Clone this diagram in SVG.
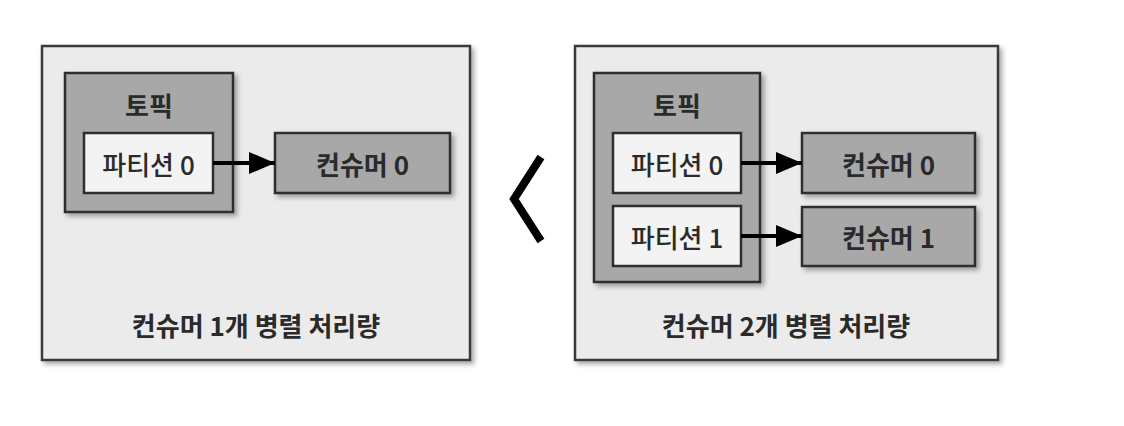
<svg xmlns="http://www.w3.org/2000/svg" width="1124" height="426" viewBox="0 0 1124 426">
<style>
text{font-family:"Noto Sans CJK KR","Noto Sans",sans-serif;fill:#2a2a2a;text-anchor:middle;dominant-baseline:central;font-size:26px}
.b{font-weight:bold}
.m{font-weight:500}
.outer{fill:#ebebeb;stroke:#3a3a3a;stroke-width:2.5;filter:url(#sh)}
.topic{fill:#a8a8a8;stroke:#2e2e2e;stroke-width:2.5;filter:url(#sh)}
.part{fill:#f3f3f3;stroke:#2e2e2e;stroke-width:2.5}
.cons{fill:#a8a8a8;stroke:#2e2e2e;stroke-width:2.5;filter:url(#sh)}
.conn{stroke:#000;stroke-width:4;fill:none;marker-end:url(#ah)}
</style>
<defs>
<filter id="sh" x="-10%" y="-10%" width="125%" height="125%">
<feDropShadow dx="3" dy="3" stdDeviation="2.5" flood-color="#000" flood-opacity="0.35"/>
</filter>
<marker id="ah" markerUnits="userSpaceOnUse" markerWidth="26" markerHeight="22" refX="26" refY="11" orient="auto">
<path d="M0,0 L26,11 L0,22 Z" fill="#000"/>
</marker>
</defs>
<rect width="1124" height="426" fill="#fff"/>
<g id="left-panel">
<rect class="outer" x="42" y="46" width="428" height="314"/>
<text class="b" x="256" y="324">컨슈머 1개 병렬 처리량</text>
</g>
<g id="left-topic">
<rect class="topic" x="65" y="73" width="168" height="139"/>
<text class="b" x="149" y="104">토픽</text>
</g>
<g id="left-partition0">
<rect class="part" x="84" y="133" width="129" height="60"/>
<text class="m" x="148.5" y="163">파티션 0</text>
</g>
<g id="left-consumer0">
<rect class="cons" x="275" y="133" width="175" height="60"/>
<text class="b" x="362.5" y="163">컨슈머 0</text>
</g>
<g id="compare">
<polyline points="541,157 514,199 541,241" fill="none" stroke="#000" stroke-width="8" stroke-linejoin="miter"/>
</g>
<g id="right-panel">
<rect class="outer" x="575" y="46" width="423" height="314"/>
<text class="b" x="786" y="324">컨슈머 2개 병렬 처리량</text>
</g>
<g id="right-topic">
<rect class="topic" x="594" y="73" width="166" height="209"/>
<text class="b" x="677" y="104">토픽</text>
</g>
<g id="right-partition0">
<rect class="part" x="613" y="133" width="128" height="60"/>
<text class="m" x="677" y="163">파티션 0</text>
</g>
<g id="right-partition1">
<rect class="part" x="613" y="206" width="128" height="60"/>
<text class="m" x="677" y="236">파티션 1</text>
</g>
<g id="right-consumer0">
<rect class="cons" x="802" y="133" width="173" height="60"/>
<text class="b" x="888.5" y="163">컨슈머 0</text>
</g>
<g id="right-consumer1">
<rect class="cons" x="802" y="207" width="173" height="59"/>
<text class="b" x="888.5" y="236">컨슈머 1</text>
</g>
<g id="connectors">
<line class="conn" x1="213" y1="163" x2="275" y2="163"/>
<line class="conn" x1="741" y1="163" x2="802" y2="163"/>
<line class="conn" x1="741" y1="236" x2="802" y2="236"/>
</g>
</svg>
